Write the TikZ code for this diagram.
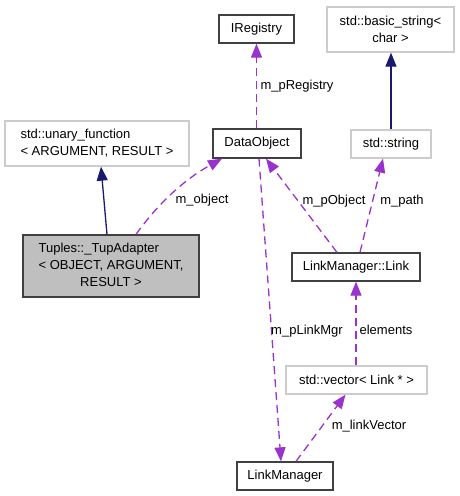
\documentclass[tikz,border=0pt]{standalone}
\usepackage{fontspec}
\setmainfont{Liberation Sans}
\usetikzlibrary{arrows.meta}
\definecolor{inhcol}{HTML}{191970}
\definecolor{usecol}{HTML}{9A32CD}
\definecolor{boxgray}{HTML}{BFBFBF}
\begin{document}
\begin{tikzpicture}[x=1pt,y=-1pt,
  every node/.style={font=\fontsize{13}{17}\selectfont, inner sep=0pt},
  cls/.style={draw=black!75, line width=1.3pt, align=center},
  ext/.style={draw=boxgray!80!white, line width=1.3pt, align=center},
  inh/.style={draw=inhcol, line width=1.3pt, -{Triangle[length=14pt,width=11pt]}},
  use/.style={draw=usecol, line width=1.3pt, dash pattern=on 8pt off 5pt, -{Triangle[length=14pt,width=11pt,fill=usecol]}},
  lbl/.style={font=\fontsize{13}{17}\selectfont}]
\useasboundingbox (0,0) rectangle (459,496);
% nodes
\node[cls, minimum width=75pt, minimum height=28pt] (ireg) at (256.5,29) {IRegistry};
\node[ext, minimum width=127pt, minimum height=45pt] (bstr) at (390.5,29.5) {std::basic\_string<\\char >};
\node[ext, minimum width=184pt, minimum height=45pt] (ufn) at (97,143.5)
  {\begin{tabular}{@{}l@{}}std::unary\_function\\< ARGUMENT, RESULT >\end{tabular}};
\node[cls, minimum width=88pt, minimum height=29pt] (dobj) at (257,143.5) {DataObject};
\node[ext, minimum width=80pt, minimum height=28pt] (str) at (391,144) {std::string};
\node[cls, fill=boxgray, minimum width=176pt, minimum height=62pt] (tup) at (111,266)
  {\begin{tabular}{@{}l@{}}Tuples::\_TupAdapter\\< OBJECT, ARGUMENT,\\\multicolumn{1}{@{}c@{}}{RESULT >}\end{tabular}};
\node[cls, minimum width=128pt, minimum height=28pt] (link) at (356,267) {LinkManager::Link};
\node[ext, minimum width=141pt, minimum height=28pt] (vec) at (356.5,380) {std::vector< Link * >};
\node[cls, minimum width=96pt, minimum height=28pt] (lm) at (285,476) {LinkManager};
% edges
\draw[inh] ([xshift=-4pt]tup.north) -- ([xshift=4pt]ufn.south);
\draw[inh] (str.north) -- (str.north |- bstr.south);
\draw[use] ([xshift=25pt]tup.north) .. controls (155,208) and (180,182) .. ([xshift=-35pt]dobj.south);
\draw[use] (dobj.north -| ireg.south) -- (ireg.south);
\draw[use] ([xshift=-19pt]link.north) -- ([xshift=9pt]dobj.south);
\draw[use] ([xshift=4pt]link.north) -- ([xshift=-8pt]str.south);
\draw[use] (vec.north -| link.south) -- (link.south);
\draw[use] ([xshift=2pt]dobj.south) -- ([xshift=-4pt]lm.north);
\draw[use] ([xshift=11pt]lm.north) -- ([xshift=-11pt]vec.south);
% labels
\node[lbl] (l1) at (202,200) {m\_object};
\node[lbl] (l2) at (297,86) {m\_pRegistry};
\node[lbl] (l3) at (334,201) {m\_pObject};
\node[lbl] (l4) at (402,201) {m\_path};
\node[lbl] (l5) at (386,330) {elements};
\node[lbl] (l6) at (307,331) {m\_pLinkMgr};
\node[lbl] (l7) at (369,426) {m\_linkVector};
\end{tikzpicture}
\end{document}
